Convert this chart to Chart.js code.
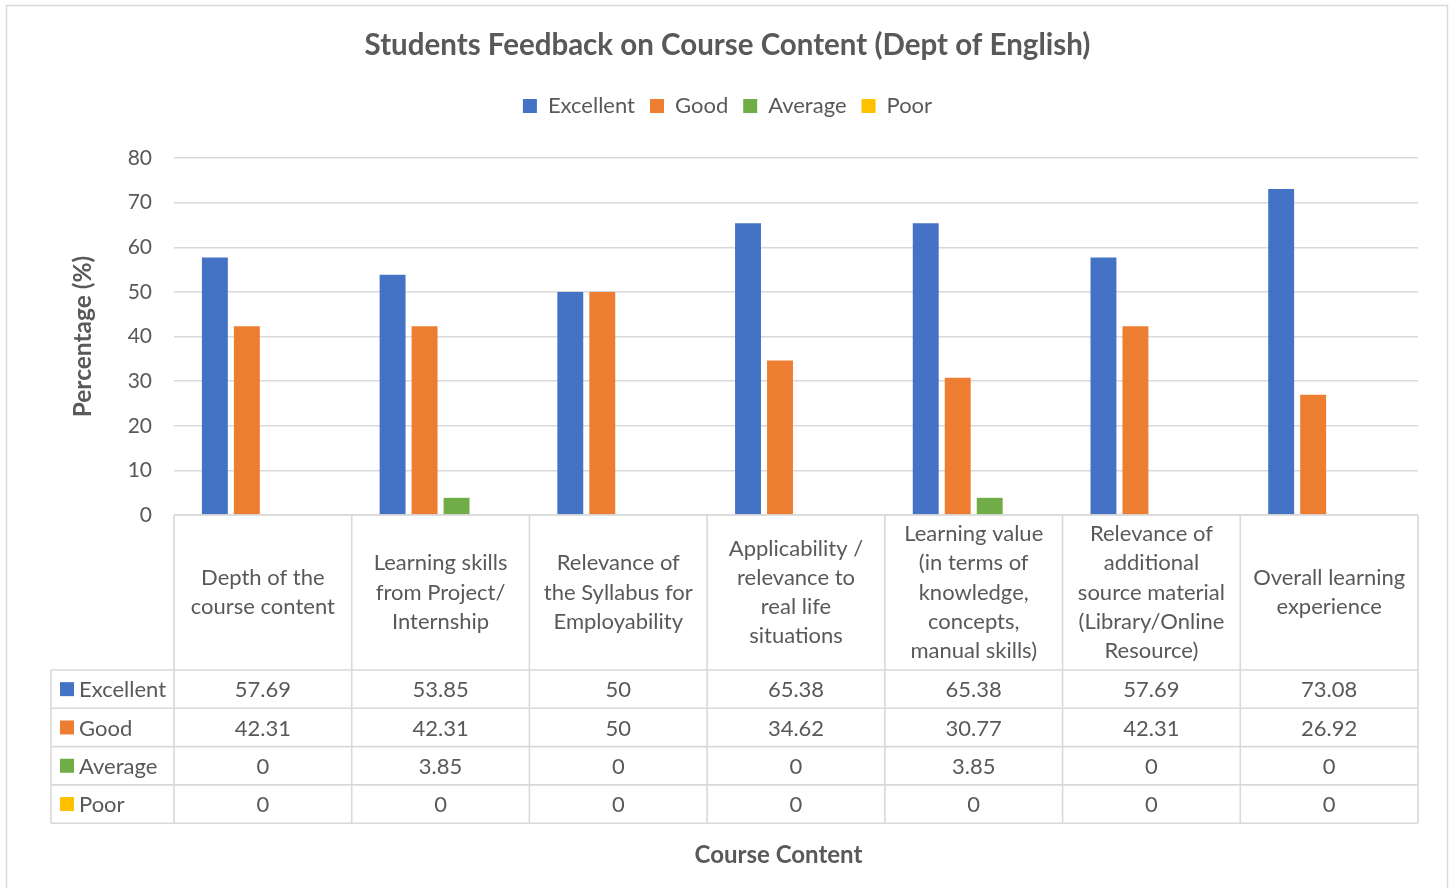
<!DOCTYPE html>
<html>
<head>
<meta charset="utf-8">
<script src="https://cdn.jsdelivr.net/npm/chart.js@4"></script>
<style>
html,body{margin:0;padding:0;background:#fff;}
#wrap{position:absolute;left:0;top:0;width:1455px;height:888px;}
</style>
</head>
<body>
<div id="wrap"><canvas id="c" width="1455" height="888"></canvas></div>
<script>
const categories = [
  ["Depth of the","course content"],
  ["Learning skills","from Project/","Internship"],
  ["Relevance of","the Syllabus for","Employability"],
  ["Applicability /","relevance to","real life","situations"],
  ["Learning value","(in terms of","knowledge,","concepts,","manual skills)"],
  ["Relevance of","additional","source material","(Library/Online","Resource)"],
  ["Overall learning","experience"]
];
const seriesNames = ["Excellent","Good","Average","Poor"];
const excellent = [57.69,53.85,50,65.38,65.38,57.69,73.08];
const good      = [42.31,42.31,50,34.62,30.77,42.31,26.92];
const average   = [0,3.85,0,0,3.85,0,0];
const poor      = [0,0,0,0,0,0,0];
const seriesColors = ["#4472C4","#ED7D31","#70AD47","#FFC000"];
const yTicks = [0,10,20,30,40,50,60,70,80];

const FONT = "Lato, 'Open Sans', sans-serif";
const TEXT = "#595959";
const LINE = "#d9d9d9";

const borderPlugin = {
  id: 'outerBorder',
  beforeDraw(chart){
    const ctx = chart.ctx;
    ctx.save();
    ctx.fillStyle = '#fff';
    ctx.fillRect(0,0,chart.width,chart.height);
    ctx.strokeStyle = LINE;
    ctx.lineWidth = 1.5;
    ctx.strokeRect(6.5,5.5,1441,920);
    ctx.restore();
  }
};

// empty layout boxes: one under the legend, one at the right of the plot
function makeSpacer(position, size){
  return {
    position, weight: 500, fullSize: position === 'top', options: {},
    top: 0, left: 0, right: 0, bottom: 0, width: 0, height: 0,
    isHorizontal(){ return position === 'top' || position === 'bottom'; },
    update(maxW, maxH){
      if (this.isHorizontal()) { this.width = maxW; this.height = size; }
      else { this.width = size; this.height = maxH; }
    },
    draw(){}
  };
}
const spacerPlugin = {
  id: 'spacers',
  beforeInit(chart){
    Chart.layouts.addBox(chart, makeSpacer('top', 31));
    Chart.layouts.addBox(chart, makeSpacer('right', 37));
  }
};

const tablePlugin = {
  id: 'dataTable',
  afterDraw(chart){
    const {ctx, chartArea} = chart;
    const x = chart.scales.x;
    const n = categories.length;
    const colW = (chartArea.right - chartArea.left) / n;
    const top = chartArea.bottom;
    const headerH = 155;
    const rowH = 38.3;
    const tableLeft = 51;
    const nRows = chart.data.datasets.length;
    const bottom = top + headerH + rowH * nRows;
    ctx.save();
    ctx.strokeStyle = LINE;
    ctx.lineWidth = 1.6;
    ctx.beginPath();
    ctx.moveTo(chartArea.left, top); ctx.lineTo(chartArea.right, top);
    for (let r = 0; r <= nRows; r++) {
      const yy = top + headerH + r * rowH;
      ctx.moveTo(tableLeft, yy); ctx.lineTo(chartArea.right, yy);
    }
    for (let k = 0; k <= n; k++) {
      const xx = (k < n ? x.getPixelForValue(k) - colW / 2 : x.getPixelForValue(n - 1) + colW / 2);
      ctx.moveTo(xx, top); ctx.lineTo(xx, bottom);
    }
    ctx.moveTo(tableLeft, top + headerH); ctx.lineTo(tableLeft, bottom);
    ctx.stroke();

    ctx.fillStyle = TEXT;
    ctx.font = "22px " + FONT;
    ctx.textAlign = 'center';
    ctx.textBaseline = 'middle';
    const lh = 29.2;
    chart.data.labels.forEach((lines, i) => {
      const cx = x.getPixelForValue(i);
      const cy = top + headerH / 2;
      const y0 = cy - (lines.length - 1) * lh / 2;
      lines.forEach((t, j) => ctx.fillText(t, cx, y0 + j * lh));
    });
    chart.data.datasets.forEach((ds, r) => {
      const cy = top + headerH + r * rowH + rowH / 2;
      ctx.fillStyle = ds.backgroundColor;
      ctx.fillRect(60, cy - 7, 14, 14);
      ctx.fillStyle = TEXT;
      ctx.textAlign = 'left';
      ctx.fillText(ds.label, 79, cy + 1);
      ctx.textAlign = 'center';
      ds.data.forEach((v, i) => {
        ctx.fillText(String(v), x.getPixelForValue(i), cy + 1);
      });
    });
    ctx.restore();
  }
};

const allSeries = [excellent, good, average, poor];
new Chart(document.getElementById('c'), {
  type: 'bar',
  data: {
    labels: categories,
    datasets: allSeries.map((d, i) => ({
      label: seriesNames[i],
      data: d,
      backgroundColor: seriesColors[i],
      borderWidth: 0,
      categoryPercentage: 0.72,
      barPercentage: 0.81
    }))
  },
  options: {
    responsive: false,
    animation: false,
    devicePixelRatio: 1,
    layout: { padding: { left: 0, right: 0, top: 0, bottom: 0 } },
    plugins: {
      title: {
        display: true,
        text: 'Students Feedback on Course Content (Dept of English)',
        color: TEXT,
        font: { family: FONT, size: 29.5, weight: 'bold' },
        padding: { top: 27.3, bottom: 17.3 }
      },
      legend: {
        display: true,
        labels: {
          color: TEXT,
          font: { family: FONT, size: 22 },
          boxWidth: 14,
          boxHeight: 14,
          padding: 15
        }
      },
      tooltip: { enabled: false }
    },
    scales: {
      x: {
        grid: { display: false },
        border: { display: false },
        ticks: { display: false },
        title: {
          display: true,
          text: 'Course Content\u00A0\u00A0\u00A0\u00A0\u00A0\u00A0',
          color: TEXT,
          font: { family: FONT, size: 24, weight: 'bold' },
          padding: { top: 0, bottom: 18.6 }
        },
        afterFit(scale) { scale.height = 373; }
      },
      y: {
        min: 0, max: 80,
        afterBuildTicks(scale) { scale.ticks = yTicks.map(v => ({ value: v })); },
        grid: { color: LINE, lineWidth: 1.5, drawTicks: false },
        border: { display: false },
        ticks: { color: TEXT, font: { family: FONT, size: 21 }, padding: 22 },
        title: {
          display: true,
          text: 'Percentage (%)',
          color: TEXT,
          font: { family: FONT, size: 24.5, weight: 'bold' },
          padding: { top: 68.3, bottom: 0 }
        },
        afterFit(scale) { scale.width = 174; }
      }
    }
  },
  plugins: [borderPlugin, spacerPlugin, tablePlugin]
});
</script>
</body>
</html>
